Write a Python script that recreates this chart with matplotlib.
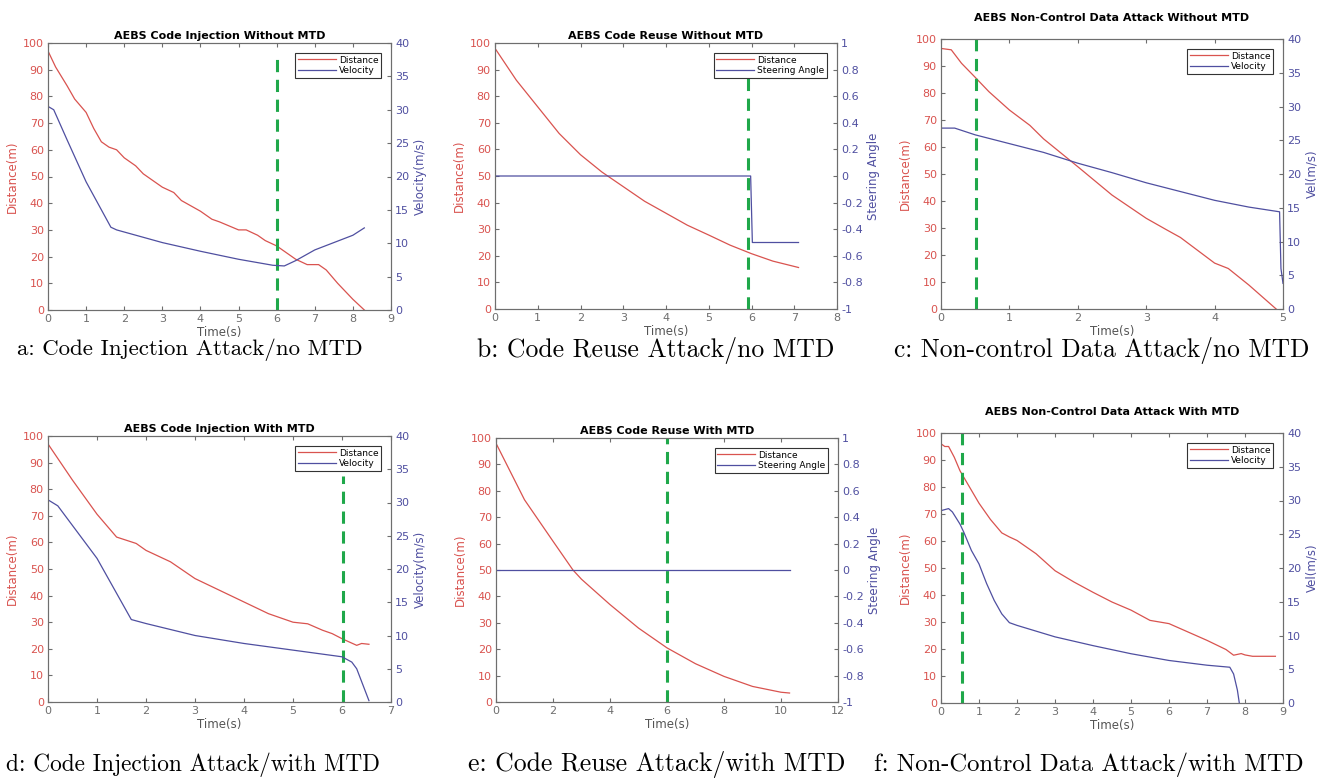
import numpy as np
import matplotlib
matplotlib.use('Agg')
import matplotlib.pyplot as plt
from matplotlib.ticker import FuncFormatter

W, H = 1318, 781

RED = '#d9534f'
BLUE = '#4f4fa0'
GREEN = '#1fa84a'
SPINE = '#6e6e6e'

# ---- a: code injection without MTD ----
a_t_dist = [0, 0.2, 0.5, 0.7, 1.0, 1.2, 1.4, 1.6, 1.8, 2.0, 2.3, 2.5, 3.0, 3.3, 3.5, 4.0, 4.3, 4.5,
            5.0, 5.2, 5.5, 5.7, 6.0, 6.3, 6.5, 6.8, 7.1, 7.3, 7.6, 8.0, 8.3]
a_dist = [97, 91, 84, 79, 74, 68, 63, 61, 60, 57, 54, 51, 46, 44, 41, 37, 34, 33,
          30, 30, 28, 26, 24, 21, 19, 17, 17, 15, 10, 4, 0]
a_t_vel = [0, 0.15, 0.5, 1.0, 1.65, 1.8, 3.0, 4.0, 5.0, 5.9, 6.2, 6.5, 7.0, 8.0, 8.3]
a_vel = [30.5, 30.0, 25.5, 19.2, 12.4, 12.0, 10.1, 8.8, 7.6, 6.7, 6.6, 7.4, 9.0, 11.2, 12.3]

# ---- b: code reuse without MTD ----
b_t_dist = [0, 0.5, 1, 1.5, 2, 2.5, 3, 3.5, 4, 4.5, 5, 5.5, 6, 6.5, 7, 7.1]
b_dist = [98, 86, 76, 66, 58, 51.5, 46, 40.5, 36, 31.5, 27.8, 24, 20.8, 18, 16, 15.6]
b_t_steer = [0, 5.98, 6.02, 7.1]
b_steer = [0, 0, -0.5, -0.5]

# ---- c: non-control data attack without MTD ----
c_t_dist = [0, 0.15, 0.3, 0.5, 0.7, 1.0, 1.3, 1.5, 2.0, 2.5, 3.0, 3.3, 3.5, 4.0, 4.2, 4.5, 4.9]
c_dist = [96.5, 96, 91, 85.8, 80.5, 73.7, 68, 63, 52.7, 42.2, 33.6, 29.3, 26.5, 17, 15, 8.9, 0]
c_t_vel = [0, 0.2, 0.5, 1.0, 1.5, 2.0, 2.5, 3.0, 3.5, 4.0, 4.5, 4.95, 4.97, 5.0]
c_vel = [26.8, 26.8, 25.8, 24.5, 23.2, 21.6, 20.2, 18.7, 17.4, 16.1, 15.1, 14.4, 6.0, 3.8]

# ---- d: code injection with MTD ----
d_t_dist = [0, 0.5, 1, 1.4, 1.6, 1.8, 2, 2.5, 3, 3.5, 4, 4.5, 5, 5.3, 5.6, 5.8, 6.0, 6.3, 6.4, 6.55]
d_dist = [97, 83.4, 70.6, 62, 60.8, 59.6, 57, 52.7, 46.4, 42, 37.6, 33.2, 30, 29.4, 27, 25.7, 23.8, 21.3, 22, 21.7]
d_t_vel = [0, 0.2, 1.0, 1.7, 2.0, 3.0, 4.0, 5.0, 6.0, 6.2, 6.3, 6.55]
d_vel = [30.4, 29.5, 21.6, 12.4, 11.8, 10.0, 8.8, 7.8, 6.8, 6.0, 5.0, 0.2]

# ---- e: code reuse with MTD ----
e_t_dist = [0, 1, 2, 2.7, 3, 4, 5, 6, 7, 8, 9, 10, 10.3]
e_dist = [98, 76.6, 60.9, 50, 46.5, 36.9, 28, 20.5, 14.5, 9.7, 5.9, 3.7, 3.4]
e_t_steer = [0, 10.3]
e_steer = [0, 0]

# ---- f: non-control data attack with MTD ----
f_t_dist = [0, 0.1, 0.2, 0.35, 0.5, 0.8, 1.0, 1.3, 1.6, 1.8, 2.0, 2.5, 3.0, 3.5, 4.0, 4.5, 5.0, 5.5,
            6.0, 6.5, 7.0, 7.5, 7.7, 7.9, 8.0, 8.2, 8.8]
f_dist = [96, 95, 95, 91, 86, 78.8, 74, 68, 63, 61.5, 60.2, 55.3, 49, 44.8, 41, 37.4, 34.4, 30.6,
          29.4, 26.3, 23.2, 19.8, 17.7, 18.3, 17.8, 17.3, 17.3]
f_t_vel = [0, 0.2, 0.3, 0.5, 0.6, 0.8, 1.0, 1.2, 1.4, 1.6, 1.8, 2.0, 3.0, 4.0, 5.0, 6.0, 7.0, 7.6, 7.7, 7.8, 7.85]
f_vel = [28.5, 28.8, 28.3, 26.5, 25.3, 22.6, 20.6, 17.7, 15.2, 13.2, 11.9, 11.5, 9.8, 8.5, 7.3, 6.3, 5.6, 5.3, 4.3, 1.9, 0]

panels = [
    dict(title='AEBS Code Injection Without MTD', box=(48, 43, 391, 310), xmax=9, xstep=1,
         td=a_t_dist, d=a_dist, tr=a_t_vel, r=a_vel, rname='Velocity', rlabel='Velocity(m/s)',
         vline=6.0, vtop=0.96, cap='a: Code Injection Attack/no MTD', cx=17, cy=350, cs=16.5, tpad=3),
    dict(title='AEBS Code Reuse Without MTD', box=(495, 43, 837, 309), xmax=8, xstep=1,
         td=b_t_dist, d=b_dist, tr=b_t_steer, r=b_steer, rname='Steering Angle', rlabel='Steering Angle',
         vline=5.92, vtop=0.87, cap='b: Code Reuse Attack/no MTD', cx=477, cy=350, cs=18.5, tpad=3),
    dict(title='AEBS Non-Control Data Attack Without MTD', box=(941, 39, 1283, 309), xmax=5, xstep=1,
         td=c_t_dist, d=c_dist, tr=c_t_vel, r=c_vel, rname='Velocity', rlabel='Vel(m/s)',
         vline=0.51, vtop=1.0, cap='c: Non-control Data Attack/no MTD', cx=894, cy=350, cs=18.3, tpad=13),
    dict(title='AEBS Code Injection With MTD', box=(48, 436, 391, 702), xmax=7, xstep=1,
         td=d_t_dist, d=d_dist, tr=d_t_vel, r=d_vel, rname='Velocity', rlabel='Velocity(m/s)',
         vline=6.02, vtop=0.85, cap='d: Code Injection Attack/with MTD', cx=6, cy=765, cs=16.8, tpad=3),
    dict(title='AEBS Code Reuse With MTD', box=(496, 438, 838, 702), xmax=12, xstep=2,
         td=e_t_dist, d=e_dist, tr=e_t_steer, r=e_steer, rname='Steering Angle', rlabel='Steering Angle',
         vline=6.0, vtop=1.0, cap='e: Code Reuse Attack/with MTD', cx=468, cy=765, cs=18.5, tpad=3),
    dict(title='AEBS Non-Control Data Attack With MTD', box=(941, 433, 1283, 703), xmax=9, xstep=1,
         td=f_t_dist, d=f_dist, tr=f_t_vel, r=f_vel, rname='Velocity', rlabel='Vel(m/s)',
         vline=0.54, vtop=1.0, cap='f: Non-Control Data Attack/with MTD', cx=874, cy=765, cs=17.8, tpad=13),
]

fig = plt.figure(figsize=(W / 100, H / 100), dpi=100)
fmt = FuncFormatter(lambda v, p: f'{round(v, 2):g}')

for p in panels:
    l, t, r, b = p['box']
    ax = fig.add_axes([l / W, 1 - b / H, (r - l) / W, (b - t) / H])
    ax2 = ax.twinx()

    h1, = ax.plot(p['td'], p['d'], color=RED, lw=0.9, label='Distance')
    h2, = ax2.plot(p['tr'], p['r'], color=BLUE, lw=0.9, label=p['rname'])
    ax.axvline(p['vline'], ymin=0, ymax=p['vtop'], color=GREEN, lw=2.2, ls=(0, (4, 2.5)))

    ax.set_xlim(0, p['xmax'])
    ax.set_xticks(np.arange(0, p['xmax'] + 0.01, p['xstep']))
    ax.set_ylim(0, 100)
    ax.set_yticks(np.arange(0, 101, 10))
    if p['rname'] == 'Velocity':
        ax2.set_ylim(0, 40)
        ax2.set_yticks(np.arange(0, 41, 5))
    else:
        ax2.set_ylim(-1, 1)
        ax2.set_yticks(np.linspace(-1, 1, 11))
        ax2.yaxis.set_major_formatter(fmt)

    for a in (ax, ax2):
        for s in a.spines.values():
            s.set_color(SPINE)
            s.set_linewidth(0.8)
    ax.tick_params(axis='x', direction='in', top=True, length=3, colors=SPINE, labelsize=8, pad=3)
    ax.tick_params(axis='y', direction='in', length=3, color=SPINE, labelcolor=RED, labelsize=8, pad=3)
    ax2.tick_params(axis='y', direction='in', length=3, color=SPINE, labelcolor=BLUE, labelsize=8, pad=3)

    ax.set_xlabel('Time(s)', fontsize=8.5, color='#555555', labelpad=1)
    ax.set_ylabel('Distance(m)', fontsize=8.5, color=RED, labelpad=3)
    ax2.set_ylabel(p['rlabel'], fontsize=8.5, color=BLUE, labelpad=3)
    ax.set_title(p['title'], fontsize=8, fontweight='bold', pad=p['tpad'])

    leg = ax2.legend([h1, h2], ['Distance', p['rname']], loc='upper right', fontsize=6.5,
                     handlelength=4.2, handletextpad=0.3, borderpad=0.3, labelspacing=0.15,
                     fancybox=False, framealpha=1, borderaxespad=1.1)
    leg.get_frame().set_edgecolor('#333333')
    leg.get_frame().set_linewidth(0.8)

    fig.text(p['cx'] / W, 1 - p['cy'] / H, p['cap'], ha='left', va='center',
             fontsize=p['cs'], family='cmr10')

fig.savefig('out.png', dpi=100)
